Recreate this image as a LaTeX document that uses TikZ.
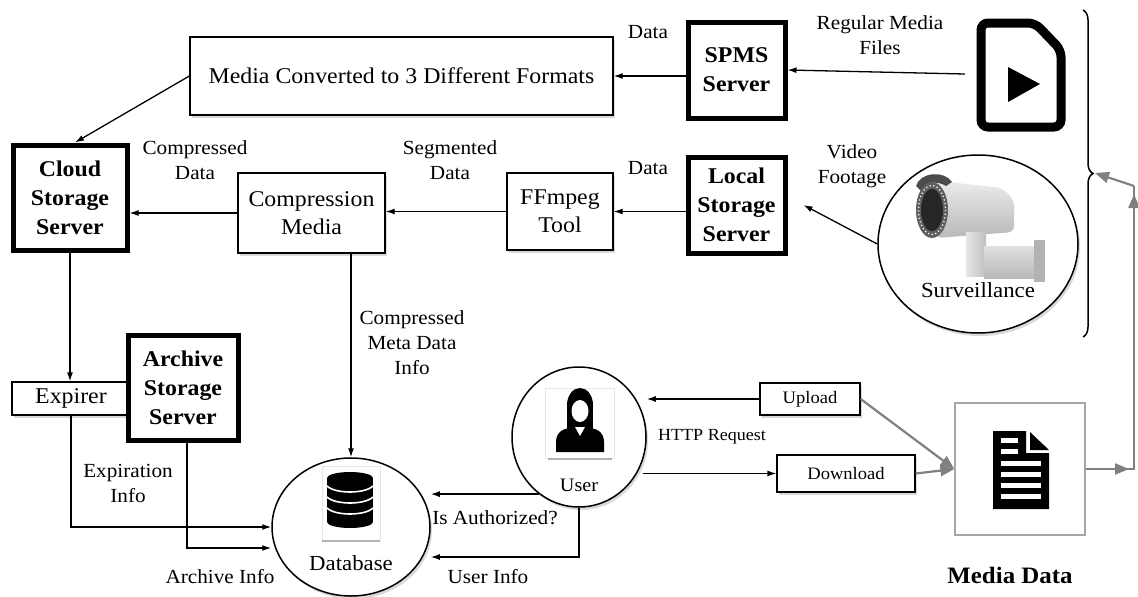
\documentclass[tikz,border=0pt]{standalone}
\usepackage{fontspec}
\setmainfont{Liberation Serif}[FakeStretch=1.06]
\usetikzlibrary{arrows.meta, calc, shapes.geometric, shadows, decorations.pathreplacing}
\tikzset{
  box/.style = {draw, line width=1.3pt, fill=white, align=center, inner sep=2pt,
    font=\fontsize{22.5}{28}\selectfont,
    drop shadow={shadow xshift=2pt, shadow yshift=-2.5pt, opacity=.3}},
  server/.style = {box, line width=5pt, font=\bfseries\fontsize{22.5}{29}\selectfont},
  smallbox/.style = {box, font=\fontsize{17.5}{22}\selectfont},
  bubble/.style = {ellipse, draw, line width=1.5pt, fill=white, inner sep=0pt,
    drop shadow={shadow xshift=2pt, shadow yshift=-3pt, opacity=.3}},
  lbl/.style = {align=center, font=\fontsize{20}{25}\selectfont},
  flow/.style = {line width=1.3pt, -{Latex[length=9pt, width=6pt]}},
  grayflow/.style = {line width=2.2pt, gray, -{Triangle[length=14pt, width=11pt]}},
}
\begin{document}
\begin{tikzpicture}[x=1pt, y=-1pt]
\useasboundingbox (0,0) rectangle (1138,597);

\node[box, minimum width=423pt, minimum height=78pt] (media) at (401.5,76) {Media Converted to 3 Different Formats};
\node[server, minimum width=97pt, minimum height=96pt] (spms) at (736.5,70) {SPMS\\Server};
\node[minimum width=90pt, minimum height=115pt] (play) at (1020,74) {};
\node[server, minimum width=114pt, minimum height=105pt] (cloud) at (70,197.5) {Cloud\\Storage\\Server};
\node[box, minimum width=147pt, minimum height=80pt] (comp) at (311.5,213) {Compression\\Media};
\node[box, minimum width=106pt, minimum height=77pt] (ffm) at (560,211.5) {FFmpeg\\Tool};
\node[server, minimum width=97pt, minimum height=96pt] (local) at (736.5,205) {Local\\Storage\\Server};
\node[bubble, minimum width=200pt, minimum height=178pt] (surv) at (978,244) {};
\node[box, minimum width=118pt, minimum height=33pt] (expirer) at (71,398.5) {Expirer};
\node[server, minimum width=110pt, minimum height=105pt] (archive) at (183,387.5) {Archive\\Storage\\Server};
\node[bubble, minimum width=158pt, minimum height=138pt] (db) at (351,527) {};
\node[bubble, minimum width=134pt, minimum height=140pt] (user) at (579,437) {};
\node[smallbox, minimum width=100pt, minimum height=32pt] (upload) at (810,399) {Upload};
\node[smallbox, minimum width=138pt, minimum height=37pt] (download) at (846,473.5) {Download};
\node[draw=gray!70, line width=1.2pt, fill=white, minimum width=130pt, minimum height=132pt] (mdata) at (1020,469) {};

% file with play button
\draw[line width=9pt, rounded corners=7pt] (981,23) -- (1035,23) -- (1061,50) -- (1061,127) -- (981,127) -- cycle;
\fill (1008,67) -- (1040,84) -- (1008,102) -- cycle;

% camera
\shade[top color=gray!15, bottom color=gray!55, rounded corners=6pt] (930,180) -- (1002,188) -- (1014,200) -- (1014,232) -- (936,238) -- cycle;
\shade[left color=gray!20, right color=gray!50] (966,232) rectangle (986,276);
\shade[top color=gray!25, bottom color=gray!55] (984,246) rectangle (1036,278);
\fill[gray!60] (1034,240) rectangle (1045,282);
\fill[gray!60!black] (916,186) .. controls (920,172) and (944,170) .. (952,182) -- (946,186) .. controls (936,180) and (926,182) .. (922,192) -- cycle;
\fill[gray!75!black] (932,210) ellipse (16 and 28);
\fill[black!85] (932,210) ellipse (11 and 21);
\draw[white, line width=1.2pt, dash pattern=on 1.2pt off 2.5pt] (932,210) ellipse (13.5 and 24.5);

% user
\draw[gray!20, line width=1pt] (545,388) rectangle (614,458);
\draw[gray!60, line width=1.6pt] (548,459) -- (612,459);
\fill (580,405) ellipse (13 and 17);
\fill (567,405) rectangle (593,431);
\fill (556,452) -- (556,442) .. controls (556,431) and (565,428) .. (572,428) -- (588,428) .. controls (595,428) and (604,431) .. (604,442) -- (604,452) -- cycle;
\fill[white] (580,411) ellipse (8.5 and 11);
\fill[white] (575,427) -- (585,427) -- (580,436) -- cycle;

% database
\draw[gray!20, line width=1pt] (322,466) rectangle (380,540);
\draw[gray!60, line width=1.6pt] (322,541) -- (380,541);
\fill (327,478) rectangle (373,522);
\fill (350,478) ellipse (23 and 6);
\fill (350,522) ellipse (23 and 6);
\foreach \y in {486,497,508}
  \draw[white, line width=1.6pt] (327,\y) .. controls (335,\y+8) and (365,\y+8) .. (373,\y);

% document
\fill (993,431) -- (1026,431) -- (1026,453) -- (1049,453) -- (1049,509) -- (993,509) -- cycle;
\fill (1030,432) -- (1049,450) -- (1030,450) -- cycle;
\foreach \y in {438,449}
  \fill[white] (1001,\y) rectangle (1018,\y+5);
\foreach \y in {461,472,483,494}
  \fill[white] (1001,\y) rectangle (1041,\y+5);

% brace
\draw[line width=1.5pt, decorate, decoration={brace, amplitude=10pt}] (1083,10) -- (1083,337);

\draw[flow] (spms.west |- media.east) -- (media.east);
\draw[flow] ([xshift=-10pt]play.west) -- (spms.east);
\draw[flow] (media.west) -- ([xshift=5pt]cloud.north);
\draw[flow] (comp.west) -- (comp.west -| cloud.east);
\draw[flow] (ffm.west) -- (ffm.west -| comp.east);
\draw[flow] (local.west |- ffm.east) -- (ffm.east);
\draw[flow] (surv.west) -- ([xshift=16pt]local.east);
\draw[flow] (cloud.south) -- (cloud.south |- expirer.north);
\draw[flow] (expirer.south) |- (db.west);
\draw[flow] ([xshift=4pt]archive.south) |- ([yshift=-21pt]db.west);
\draw[flow] (comp.south -| db.north) -- (db.north);
\draw[flow] (user.235) -- (user.235 -| db.east);
\draw[flow] (user.south) |- ([yshift=-30pt]db.east);
\draw[flow] (upload.west) -- (upload.west -| user.east);
\draw[flow] ([xshift=-4pt]user.east |- download.west) -- (download.west);
\draw[grayflow] (upload.east) -- (mdata.west);
\draw[grayflow] (download.east) -- (mdata.west);

\coordinate (turn1) at (1134,469);
\coordinate (turn2) at (1134,186);
\coordinate (tip) at (1095,173);
\draw[gray, line width=2.2pt] (mdata.east) -- (turn1) -- (turn2);
\draw[grayflow, shorten >=5pt] (mdata.east) -- (turn1);
\draw[grayflow, shorten >=8pt] (turn1) -- (turn2);
\draw[grayflow] (turn2) -- (tip);

\node[lbl] at (648,32) {Data};
\node[lbl] at (880,35) {Regular Media\\Files};
\node[lbl] at (195,160) {Compressed\\Data};
\node[lbl] at (450,160) {Segmented\\Data};
\node[lbl] at (648,168) {Data};
\node[lbl] at (852,166) {Video\\Footage};
\node[lbl, font=\fontsize{21.5}{26}\selectfont] at (978,290) {Surveillance};
\node[lbl] at (412,343) {Compressed\\Meta Data\\Info};
\node[lbl] at (128,483) {Expiration\\Info};
\node[lbl] at (220,577) {Archive Info};
\node[lbl, font=\fontsize{21.5}{26}\selectfont] at (351,563) {Database};
\node[lbl, font=\fontsize{19}{24}\selectfont] at (579,485) {User};
\node[lbl] at (495,518) {Is Authorized?};
\node[lbl] at (488,577) {User Info};
\node[lbl, font=\fontsize{17}{21}\selectfont] at (712,437) {HTTP Request};
\node[lbl, font=\bfseries\fontsize{23.5}{28}\selectfont] at (1010,575) {Media Data};
\end{tikzpicture}
\end{document}
